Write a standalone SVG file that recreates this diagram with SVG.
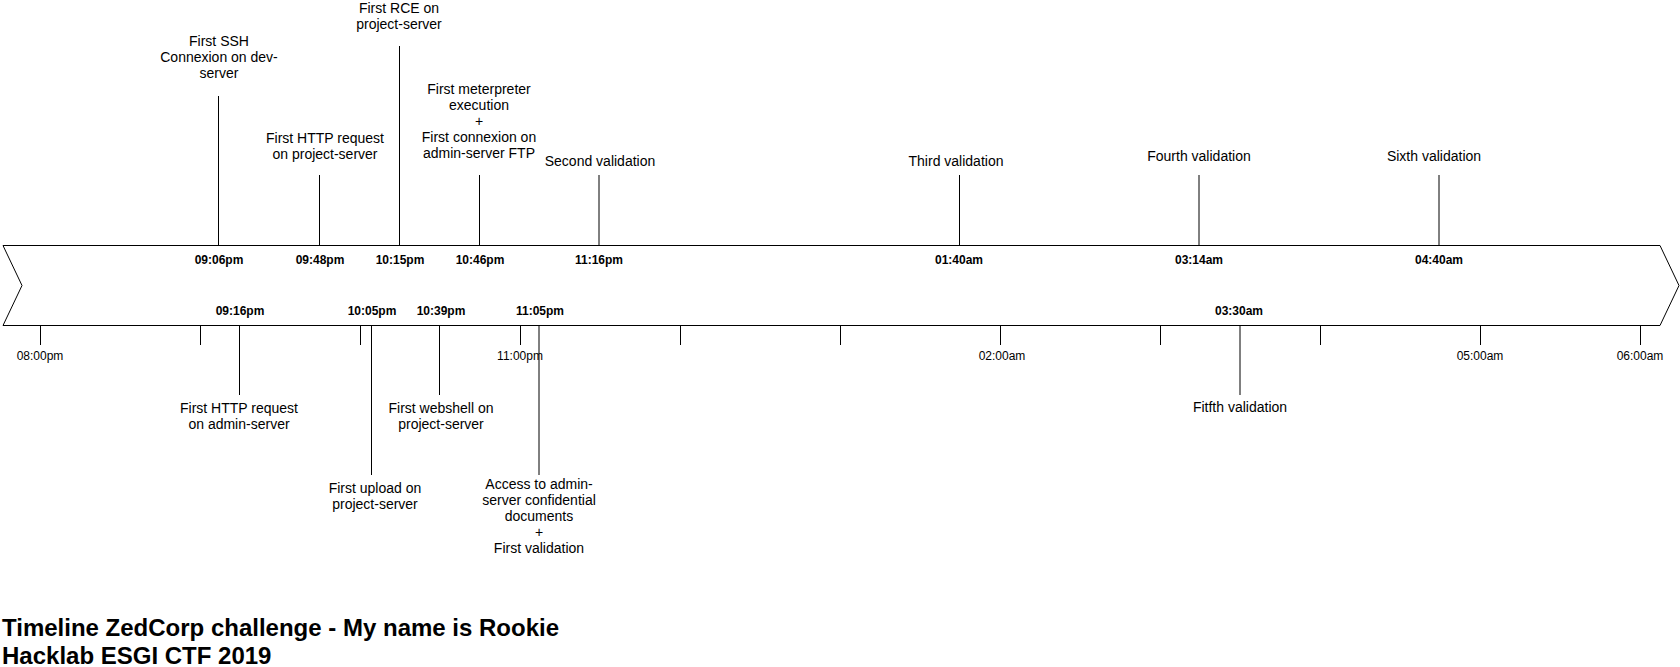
<svg xmlns="http://www.w3.org/2000/svg" width="1680" height="667" viewBox="0 0 1680 667">
<style>
text{font-family:"Liberation Sans",Arial,sans-serif;fill:#000;text-anchor:middle}
.ev{font-size:14px}
.tb{font-size:12px;font-weight:bold}
.tk{font-size:12px}
.ttl{font-size:24px;font-weight:bold;text-anchor:start}
.ln{stroke:#000;stroke-width:1;fill:none}
</style>
<rect x="0" y="0" width="1680" height="667" fill="#fff"/>
<g id="timeline-arrow">
<path class="ln" fill="#fff" d="M3,245.5 L1660,245.5 L1679,285.5 L1660,325.5 L3,325.5 L22,285.5 Z" style="fill:#fff"/>
</g>
<g id="ticks" class="ln">
<path class="ln" d="M40.5,325 V345 M200.5,325 V345 M360.5,325 V345 M520.5,325 V345 M680.5,325 V345 M840.5,325 V345 M1000.5,325 V345 M1160.5,325 V345 M1320.5,325 V345 M1480.5,325 V345 M1640.5,325 V345"/>
</g>
<g id="tick-labels" class="tk">
<text class="tk" x="40" y="360">08:00pm</text>
<text class="tk" x="520" y="360">11:00pm</text>
<text class="tk" x="1002" y="360">02:00am</text>
<text class="tk" x="1480" y="360">05:00am</text>
<text class="tk" x="1640" y="360">06:00am</text>
</g>
<g id="connectors">
<path class="ln" d="M218.5,96 V245"/>
<path class="ln" d="M319.5,175 V245"/>
<path class="ln" d="M399.5,46 V245"/>
<path class="ln" d="M479.5,175 V245"/>
<path class="ln" d="M599,175 V245"/>
<path class="ln" d="M959.5,175 V245"/>
<path class="ln" d="M1199,175 V245"/>
<path class="ln" d="M1439,175 V245"/>
<path class="ln" d="M239.5,326 V395"/>
<path class="ln" d="M371.5,326 V475"/>
<path class="ln" d="M439.5,326 V395"/>
<path class="ln" d="M539,326 V475"/>
<path class="ln" d="M1240,326 V395"/>
</g>
<g id="ev-0906">
<text class="ev" x="219" y="45.5">First SSH</text>
<text class="ev" x="219" y="61.5">Connexion on dev-</text>
<text class="ev" x="219" y="77.5">server</text>
<text class="tb" x="219" y="264">09:06pm</text>
</g>
<g id="ev-0948">
<text class="ev" x="325" y="143">First HTTP request</text>
<text class="ev" x="325" y="159">on project-server</text>
<text class="tb" x="320" y="264">09:48pm</text>
</g>
<g id="ev-1015">
<text class="ev" x="399" y="13">First RCE on</text>
<text class="ev" x="399" y="29">project-server</text>
<text class="tb" x="400" y="264">10:15pm</text>
</g>
<g id="ev-1046">
<text class="ev" x="479" y="94">First meterpreter</text>
<text class="ev" x="479" y="110">execution</text>
<text class="ev" x="479" y="126">+</text>
<text class="ev" x="479" y="142">First connexion on</text>
<text class="ev" x="479" y="158">admin-server FTP</text>
<text class="tb" x="480" y="264">10:46pm</text>
</g>
<g id="ev-1116">
<text class="ev" x="600" y="166">Second validation</text>
<text class="tb" x="599" y="264">11:16pm</text>
</g>
<g id="ev-0140">
<text class="ev" x="956" y="166">Third validation</text>
<text class="tb" x="959" y="264">01:40am</text>
</g>
<g id="ev-0314">
<text class="ev" x="1199" y="161">Fourth validation</text>
<text class="tb" x="1199" y="264">03:14am</text>
</g>
<g id="ev-0440">
<text class="ev" x="1434" y="161">Sixth validation</text>
<text class="tb" x="1439" y="264">04:40am</text>
</g>
<g id="ev-0916">
<text class="tb" x="240" y="315">09:16pm</text>
<text class="ev" x="239" y="413">First HTTP request</text>
<text class="ev" x="239" y="429">on admin-server</text>
</g>
<g id="ev-1005">
<text class="tb" x="372" y="315">10:05pm</text>
<text class="ev" x="375" y="493">First upload on</text>
<text class="ev" x="375" y="509">project-server</text>
</g>
<g id="ev-1039">
<text class="tb" x="441" y="315">10:39pm</text>
<text class="ev" x="441" y="413">First webshell on</text>
<text class="ev" x="441" y="429">project-server</text>
</g>
<g id="ev-1105">
<text class="tb" x="540" y="315">11:05pm</text>
<text class="ev" x="539" y="489">Access to admin-</text>
<text class="ev" x="539" y="505">server confidential</text>
<text class="ev" x="539" y="521">documents</text>
<text class="ev" x="539" y="537">+</text>
<text class="ev" x="539" y="553">First validation</text>
</g>
<g id="ev-0330">
<text class="tb" x="1239" y="315">03:30am</text>
<text class="ev" x="1240" y="412">Fitfth validation</text>
</g>
<g id="title">
<text class="ttl" x="2" y="636">Timeline ZedCorp challenge - My name is Rookie</text>
<text class="ttl" x="2" y="664">Hacklab ESGI CTF 2019</text>
</g>
</svg>
